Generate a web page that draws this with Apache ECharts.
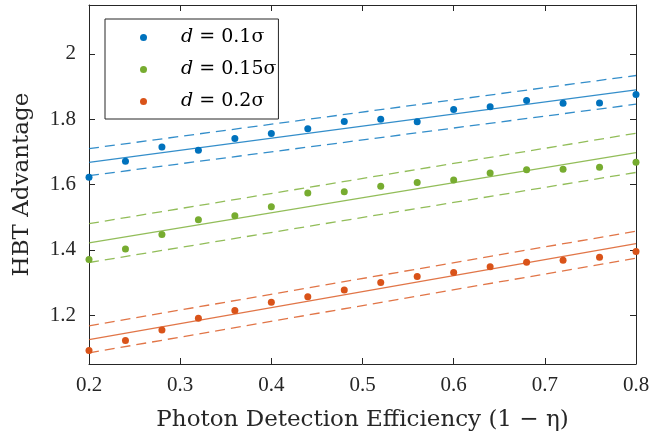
<!DOCTYPE html>
<html>
<head>
<meta charset="utf-8">
<script src="https://cdn.jsdelivr.net/npm/echarts@6/dist/echarts.min.js"></script>
<style>html,body{margin:0;padding:0;background:#fff}#c{width:655px;height:440px}</style>
</head>
<body>
<div id="c"></div>
<script>
const xValues = [0.2,0.24,0.28,0.32,0.36,0.40,0.44,0.48,0.52,0.56,0.60,0.64,0.68,0.72,0.76,0.80];
const blueVals   = [1.622,1.671,1.715,1.705,1.741,1.756,1.771,1.793,1.800,1.792,1.830,1.838,1.857,1.849,1.850,1.876];
const greenVals  = [1.370,1.402,1.447,1.492,1.504,1.532,1.574,1.578,1.595,1.606,1.614,1.635,1.645,1.647,1.653,1.668];
const orangeVals = [1.091,1.122,1.154,1.190,1.214,1.239,1.256,1.277,1.300,1.318,1.330,1.348,1.362,1.368,1.377,1.395];
const fitX = [0.2, 0.8];
const blueFit = [1.668, 1.890], blueUp = [1.710, 1.934], blueLo = [1.627, 1.846];
const greenFit = [1.421, 1.698], greenUp = [1.480, 1.757], greenLo = [1.361, 1.637];
const orangeFit = [1.125, 1.419], orangeUp = [1.167, 1.457], orangeLo = [1.084, 1.374];
const seriesNames = ['d = 0.1σ', 'd = 0.15σ', 'd = 0.2σ'];
const xTicks = [0.2,0.3,0.4,0.5,0.6,0.7,0.8];
const yTicks = [1.2,1.4,1.6,1.8,2.0];

const C = ['#0072BD', '#77AC30', '#D95319'];
const FONT = 'Liberation Serif';
const FONT2 = 'DejaVu Serif';
const AX = '#262626';
const pts = v => xValues.map((x,i)=>[x, v[i]]);
const ln = v => fitX.map((x,i)=>[x, v[i]]);

function scatter(name, vals, color){
  return {type:'scatter', name, data: pts(vals), symbolSize:7, itemStyle:{color, opacity:1}, z:5};
}
function line(vals, color, dashed){
  return {type:'line', data: ln(vals), symbol:'none', silent:true, z:3,
    lineStyle:{color, width:1.3, opacity:0.8, type: dashed ? [10,6] : 'solid'}};
}
const chart = echarts.init(document.getElementById('c'), null, {renderer:'canvas'});
const yAxisBase = {type:'value', min:1.05, max:2.15, splitLine:{show:false},
  axisLine:{show:true, lineStyle:{color:AX, width:1}},
  axisTick:{show:true, inside:true, length:6, customValues:yTicks, lineStyle:{color:AX}}};
const xAxisBase = {type:'value', min:0.2, max:0.8, splitLine:{show:false},
  axisLine:{show:true, lineStyle:{color:AX, width:1}},
  axisTick:{show:true, inside:true, length:6, customValues:xTicks, lineStyle:{color:AX}}};
chart.setOption({
  animation:false,
  grid:{left:89, right:19, top:5, bottom:76},
  legend:{
    data: seriesNames, left:105, top:19, orient:'vertical',
    borderColor:AX, borderWidth:1, backgroundColor:'#fff',
    padding:[9,2,8,35], itemGap:13, itemWidth:7, itemHeight:7, icon:'circle',
    formatter: n => '{i|d}{t|' + n.slice(1) + '}',
    textStyle:{fontFamily:FONT2, fontSize:19, color:'#000', padding:[0,0,0,29],
      rich:{i:{fontFamily:FONT2, fontStyle:'italic', fontSize:19, color:'#000'},
            t:{fontFamily:FONT2, fontSize:19, color:'#000'}}}
  },
  xAxis:[
    Object.assign({}, xAxisBase, {position:'bottom',
      name:'Photon Detection Efficiency (1 − η)', nameLocation:'middle', nameGap:45,
      nameTextStyle:{fontFamily:FONT2, fontSize:23, color:'#262626'},
      axisLabel:{show:true, customValues:xTicks, formatter:v=>v.toFixed(1), margin:11,
        fontFamily:FONT, fontSize:21, color:'#262626'}}),
    Object.assign({}, xAxisBase, {position:'top', axisLabel:{show:false}})
  ],
  yAxis:[
    Object.assign({}, yAxisBase, {position:'left',
      name:'HBT Advantage', nameLocation:'middle', nameGap:55,
      nameTextStyle:{fontFamily:FONT2, fontSize:23, color:'#262626'},
      axisLabel:{show:true, customValues:yTicks, formatter:v=>(Math.abs(v-2)<1e-9?'2':v.toFixed(1)), margin:13,
        fontFamily:FONT, fontSize:21, color:'#262626'}}),
    Object.assign({}, yAxisBase, {position:'right', axisLabel:{show:false}})
  ],
  series:[
    scatter(seriesNames[0], blueVals, C[0]),
    scatter(seriesNames[1], greenVals, C[1]),
    scatter(seriesNames[2], orangeVals, C[2]),
    line(blueFit, C[0], false), line(blueUp, C[0], true), line(blueLo, C[0], true),
    line(greenFit, C[1], false), line(greenUp, C[1], true), line(greenLo, C[1], true),
    line(orangeFit, C[2], false), line(orangeUp, C[2], true), line(orangeLo, C[2], true)
  ]
});
</script>
</body>
</html>
